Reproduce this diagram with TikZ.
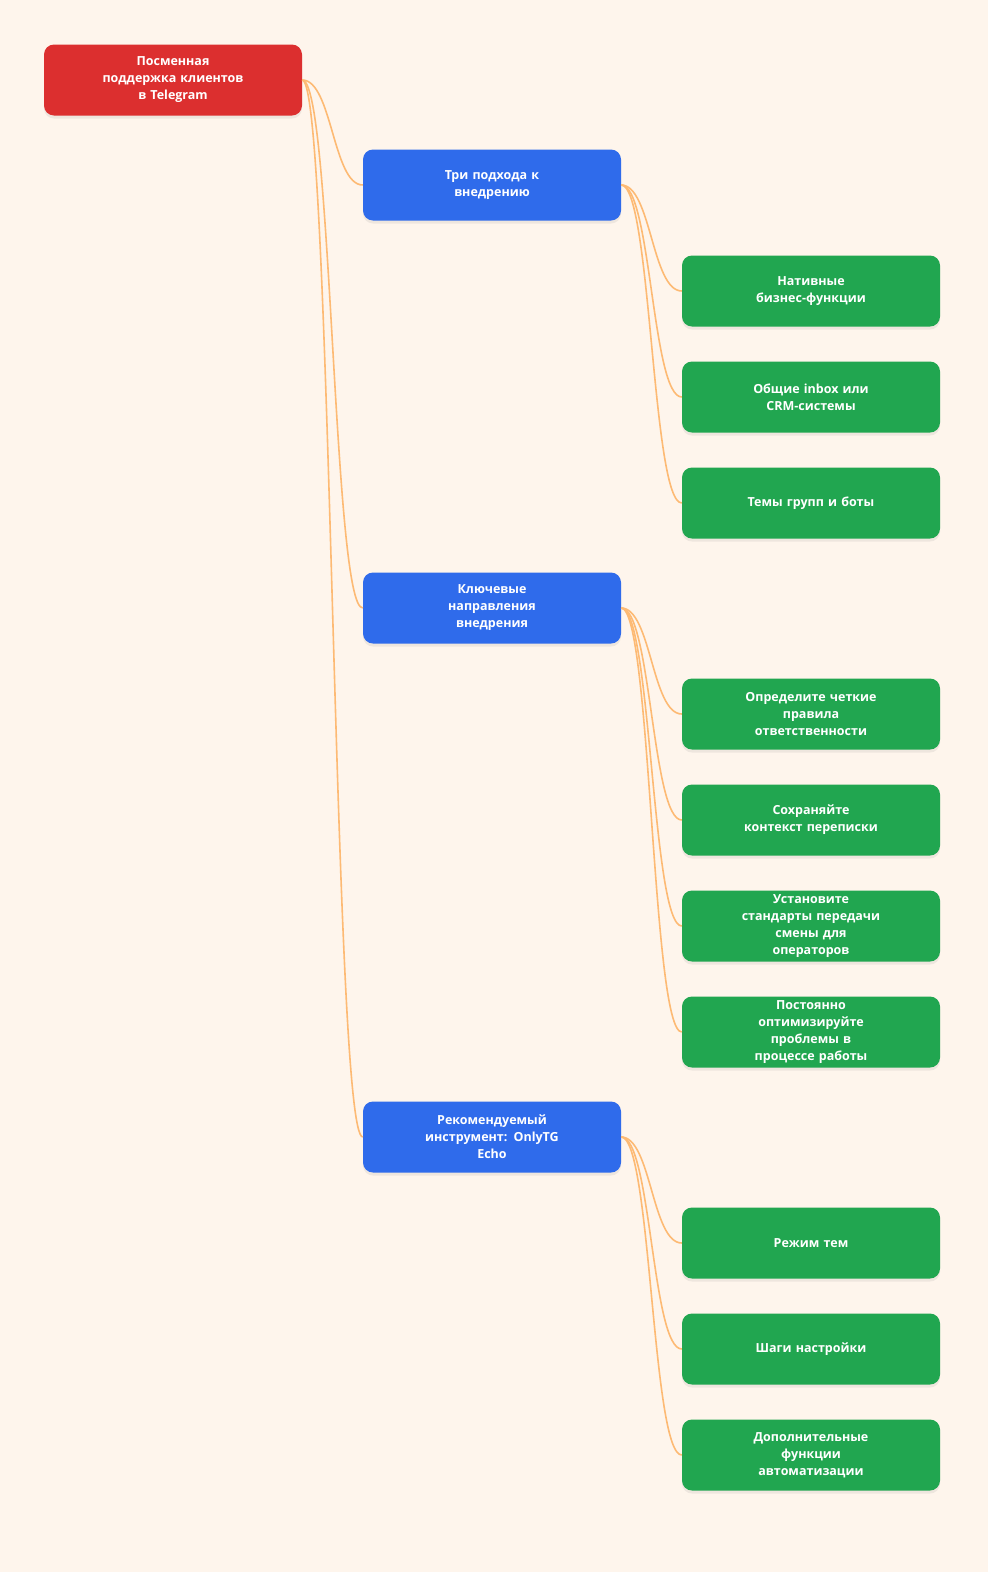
\documentclass[tikz,border=0pt]{standalone}
\usepackage{fontspec}
\setmainfont{Open Sans}
\usetikzlibrary{shadows}
\definecolor{bg}{HTML}{FEF5EC}
\definecolor{cred}{HTML}{DC2F2F}
\definecolor{cblue}{HTML}{2F6BEB}
\definecolor{cgreen}{HTML}{21A650}
\definecolor{cline}{HTML}{FDBA74}
\begin{document}
\begin{tikzpicture}[x=1pt,y=-1pt,
  box/.style={rounded corners=10pt, minimum width=258pt, minimum height=71pt, text width=150pt, align=center,
    text=white, font=\fontsize{12.5}{17}\selectfont\bfseries, inner sep=0pt,
    drop shadow={shadow xshift=0pt, shadow yshift=-3pt, opacity=0.12}},
  root/.style={box, fill=cred},
  mid/.style={box, fill=cblue},
  leaf/.style={box, fill=cgreen},
  link/.style={draw=cline, line width=1.6pt}]
\fill[bg] (0,0) rectangle (988,1572);
\useasboundingbox (0,0) rectangle (988,1572);
\node[root] (r) at (173,80) {Посменная\\поддержка клиентов\\в Telegram};
\node[mid] (a) at (492,185) {Три подхода к\\внедрению};
\node[mid] (b) at (492,608) {Ключевые\\направления\\внедрения};
\node[mid] (c) at (492,1137) {Рекомендуемый\\инструмент: OnlyTG\\Echo};
\node[leaf] (a1) at (811,291) {Нативные\\бизнес-функции};
\node[leaf] (a2) at (811,397) {Общие inbox или\\CRM-системы};
\node[leaf] (a3) at (811,503) {Темы групп и боты};
\node[leaf] (b1) at (811,714) {Определите четкие\\правила\\ответственности};
\node[leaf] (b2) at (811,820) {Сохраняйте\\контекст переписки};
\node[leaf] (b3) at (811,926) {Установите\\стандарты передачи\\смены для\\операторов};
\node[leaf] (b4) at (811,1032) {Постоянно\\оптимизируйте\\проблемы в\\процессе работы};
\node[leaf] (c1) at (811,1243) {Режим тем};
\node[leaf] (c2) at (811,1349) {Шаги настройки};
\node[leaf] (c3) at (811,1455) {Дополнительные\\функции\\автоматизации};
\foreach \p/\c in {r/a,r/b,r/c,a/a1,a/a2,a/a3,b/b1,b/b2,b/b3,b/b4,c/c1,c/c2,c/c3}{
  \path[link] (\p.east) .. controls ([xshift=30pt]\p.east) and ([xshift=-30pt]\c.west) .. (\c.west);
}
\end{tikzpicture}
\end{document}
